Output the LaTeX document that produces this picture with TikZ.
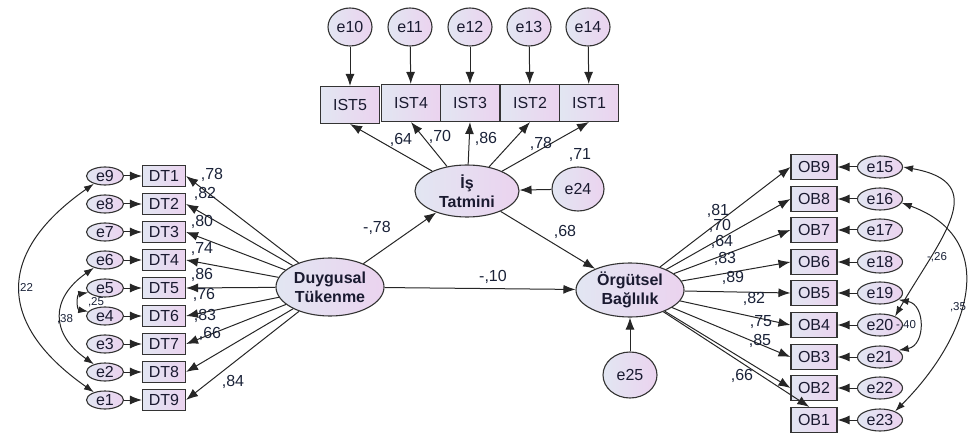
\documentclass[tikz,border=0pt]{standalone}
\usepackage{fontspec}
\setmainfont{Liberation Sans}
\usepackage{tikz}
\usetikzlibrary{shapes.geometric}
\usetikzlibrary{arrows.meta}
\definecolor{fillleft}{HTML}{E2E6F2}
\definecolor{fillright}{HTML}{EBD3EF}
\definecolor{textdark}{HTML}{1A1A30}
\definecolor{labeldark}{HTML}{1A2238}
\tikzset{
  base_node/.style = {align=center, inner sep=0pt, text centered, draw=black!80,
    line width=1.1pt, text=textdark, left color=fillleft, right color=fillright},
  obs_node/.style = {base_node, rectangle, font=\fontsize{16}{18}\selectfont},
  dt_node/.style = {obs_node, minimum width=43pt, minimum height=21pt},
  ist_node/.style = {obs_node, minimum width=59pt, minimum height=37pt},
  ob_node/.style = {obs_node, minimum width=46pt, minimum height=25pt},
  err_node/.style = {base_node, ellipse, font=\fontsize{16}{18}\selectfont},
  e_left/.style = {err_node, minimum width=37pt, minimum height=18pt},
  e_right/.style = {err_node, minimum width=45pt, minimum height=22pt},
  e_top/.style = {err_node, minimum width=44pt, minimum height=38pt},
  lat_node/.style = {base_node, ellipse, font=\bfseries\fontsize{16}{19}\selectfont},
  coef/.style = {font=\fontsize{16}{18}\selectfont, text=labeldark, inner sep=0pt},
  cov_coef/.style = {font=\fontsize{11.5}{13}\selectfont, text=labeldark, inner sep=0pt},
  path_arrow/.style = {-{Latex[length=12pt,width=9pt]}, line width=1pt, draw=black!85},
  cov_arrow/.style = {{Latex[length=10pt,width=7pt]}-{Latex[length=10pt,width=7pt]},
    line width=1pt, draw=black!85}
}

\begin{document}
\begin{tikzpicture}[x=1pt, y=1pt]
  \useasboundingbox (0,0) rectangle (968,434);

  \node [lat_node, minimum width=108pt, minimum height=58pt] (duy) at (330,147) {Duygusal\\Tükenme};
  \node [lat_node, minimum width=104pt, minimum height=52pt] (ist) at (467,243) {İş\\Tatmini};
  \node [lat_node, minimum width=108pt, minimum height=54pt] (org) at (630,144) {Örgütsel\\Bağlılık};
  \node [err_node, minimum width=52pt, minimum height=44pt] (e24) at (578,245) {e24};
  \node [err_node, minimum width=54pt, minimum height=46pt] (e25) at (630,59) {e25};

  \node [dt_node] (dt1) at (164,258) {DT1};
  \node [dt_node] (dt2) at (164,230) {DT2};
  \node [dt_node] (dt3) at (164,202) {DT3};
  \node [dt_node] (dt4) at (164,174) {DT4};
  \node [dt_node] (dt5) at (164,146) {DT5};
  \node [dt_node] (dt6) at (164,118) {DT6};
  \node [dt_node] (dt7) at (164,90) {DT7};
  \node [dt_node] (dt8) at (164,62) {DT8};
  \node [dt_node] (dt9) at (164,34) {DT9};
  \node [e_left] (e9) at (105,258) {e9};
  \node [e_left] (e8) at (105,230) {e8};
  \node [e_left] (e7) at (105,202) {e7};
  \node [e_left] (e6) at (105,174) {e6};
  \node [e_left] (e5) at (105,146) {e5};
  \node [e_left] (e4) at (105,118) {e4};
  \node [e_left] (e3) at (105,90) {e3};
  \node [e_left] (e2) at (105,62) {e2};
  \node [e_left] (e1) at (105,34) {e1};

  \node [ist_node] (ist5) at (350,329) {IST5};
  \node [ist_node] (ist4) at (411,331) {IST4};
  \node [ist_node] (ist3) at (470,331) {IST3};
  \node [ist_node] (ist2) at (530,331) {IST2};
  \node [ist_node] (ist1) at (589,331) {IST1};
  \node [e_top] (e10) at (350,407) {e10};
  \node [e_top] (e11) at (410,407) {e11};
  \node [e_top] (e12) at (470,407) {e12};
  \node [e_top] (e13) at (529,407) {e13};
  \node [e_top] (e14) at (588,407) {e14};

  \node [ob_node] (ob9) at (814,267) {OB9};
  \node [ob_node] (ob8) at (814,235) {OB8};
  \node [ob_node] (ob7) at (814,204) {OB7};
  \node [ob_node] (ob6) at (814,172) {OB6};
  \node [ob_node] (ob5) at (814,141) {OB5};
  \node [ob_node] (ob4) at (814,109) {OB4};
  \node [ob_node] (ob3) at (814,77) {OB3};
  \node [ob_node] (ob2) at (814,46) {OB2};
  \node [ob_node] (ob1) at (814,14) {OB1};
  \node [e_right] (e15) at (880,267) {e15};
  \node [e_right] (e16) at (880,235) {e16};
  \node [e_right] (e17) at (880,204) {e17};
  \node [e_right] (e18) at (880,172) {e18};
  \node [e_right] (e19) at (880,141) {e19};
  \node [e_right] (e20) at (880,109) {e20};
  \node [e_right] (e21) at (880,77) {e21};
  \node [e_right] (e22) at (880,46) {e22};
  \node [e_right] (e23) at (880,14) {e23};

  \draw [path_arrow] (duy) -- (ist);
  \draw [path_arrow] (ist) -- (org);
  \draw [path_arrow] (duy) -- (org);
  \draw [path_arrow] (e24) -- (ist);
  \draw [path_arrow] (e25) -- (org);

  \draw [path_arrow] (duy) -- (dt1.east);
  \draw [path_arrow] (duy) -- (dt2.east);
  \draw [path_arrow] (duy) -- (dt3.east);
  \draw [path_arrow] (duy) -- (dt4.east);
  \draw [path_arrow] (duy) -- (dt5.east);
  \draw [path_arrow] (duy) -- (dt6.east);
  \draw [path_arrow] (duy) -- (dt7.east);
  \draw [path_arrow] (duy) -- (dt8.east);
  \draw [path_arrow] (duy) -- (dt9.east);
  \draw [path_arrow] (e9) -- (dt1);
  \draw [path_arrow] (e8) -- (dt2);
  \draw [path_arrow] (e7) -- (dt3);
  \draw [path_arrow] (e6) -- (dt4);
  \draw [path_arrow] (e5) -- (dt5);
  \draw [path_arrow] (e4) -- (dt6);
  \draw [path_arrow] (e3) -- (dt7);
  \draw [path_arrow] (e2) -- (dt8);
  \draw [path_arrow] (e1) -- (dt9);

  \draw [path_arrow] (ist) -- (ist5.south);
  \draw [path_arrow] (ist) -- (ist4.south);
  \draw [path_arrow] (ist) -- (ist3.south);
  \draw [path_arrow] (ist) -- (ist2.south);
  \draw [path_arrow] (ist) -- (ist1.south);
  \draw [path_arrow] (e10) -- (ist5);
  \draw [path_arrow] (e11) -- (ist4);
  \draw [path_arrow] (e12) -- (ist3);
  \draw [path_arrow] (e13) -- (ist2);
  \draw [path_arrow] (e14) -- (ist1);

  \draw [path_arrow] (org) -- (ob9.west);
  \draw [path_arrow] (org) -- (ob8.west);
  \draw [path_arrow] (org) -- (ob7.west);
  \draw [path_arrow] (org) -- (ob6.west);
  \draw [path_arrow] (org) -- (ob5.west);
  \draw [path_arrow] (org) -- (ob4.west);
  \draw [path_arrow] (org) -- (ob3.west);
  \draw [path_arrow] (org) -- (ob2.west);
  \draw [path_arrow] (org) -- (ob1.110);
  \draw [path_arrow] (e15) -- (ob9);
  \draw [path_arrow] (e16) -- (ob8);
  \draw [path_arrow] (e17) -- (ob7);
  \draw [path_arrow] (e18) -- (ob6);
  \draw [path_arrow] (e19) -- (ob5);
  \draw [path_arrow] (e20) -- (ob4);
  \draw [path_arrow] (e21) -- (ob3);
  \draw [path_arrow] (e22) -- (ob2);
  \draw [path_arrow] (e23) -- (ob1);

  \draw [cov_arrow] (e9.215) to[out=215, in=145, looseness=1.47] (e1.145);
  \draw [cov_arrow] (e6.215) to[out=215, in=145, looseness=1.42] (e2.145);
  \draw [cov_arrow] (e5.195) to[out=190, in=170, looseness=1.6] (e4.165);
  \draw [cov_arrow] (e15.east) to[out=-10, in=60, looseness=1.55] (e20.30);
  \draw [cov_arrow] (e19.-20) to[out=-10, in=10, looseness=1.4] (e21.20);
  \draw [cov_arrow] (e16.-10) to[out=-20, in=45, looseness=1.3] (e23.30);

  \node [coef] (c_dt1) at (212,259) {,78};
  \node [coef] (c_dt2) at (205,240) {,82};
  \node [coef] (c_dt3) at (202,212) {,80};
  \node [coef] (c_dt4) at (202,185) {,74};
  \node [coef] (c_dt5) at (202,159) {,86};
  \node [coef] (c_dt6) at (204,139) {,76};
  \node [coef] (c_dt7) at (205,118) {,83};
  \node [coef] (c_dt8) at (210,100) {,66};
  \node [coef] (c_dt9) at (233,52) {,84};

  \node [coef] (c_ist5) at (401,294) {,64};
  \node [coef] (c_ist4) at (440,297) {,70};
  \node [coef] (c_ist3) at (486,295) {,86};
  \node [coef] (c_ist2) at (541,290) {,78};
  \node [coef] (c_ist1) at (580,279) {,71};

  \node [coef] (c_duy_ist) at (377,206) {-,78};
  \node [coef] (c_ist_org) at (565,202) {,68};
  \node [coef] (c_duy_org) at (493,157) {-,10};

  \node [coef] (c_ob9) at (718,223) {,81};
  \node [coef] (c_ob8) at (720,208) {,70};
  \node [coef] (c_ob7) at (722,192) {,64};
  \node [coef] (c_ob6) at (725,175) {,83};
  \node [coef] (c_ob5) at (733,156) {,89};
  \node [coef] (c_ob4) at (754,135) {,82};
  \node [coef] (c_ob3) at (761,112) {,75};
  \node [coef] (c_ob2) at (760,93) {,85};
  \node [coef] (c_ob1) at (742,58) {,66};

  \node [cov_coef] (c_e9_e1) at (25,146) {,22};
  \node [cov_coef] (c_e6_e2) at (65,115) {,38};
  \node [cov_coef] (c_e5_e4) at (96,132) {,25};
  \node [cov_coef] (c_e15_e20) at (937,177) {-,26};
  \node [cov_coef] (c_e19_e21) at (906,109) {-,40};
  \node [cov_coef] (c_e16_e23) at (958,127) {,35};
\end{tikzpicture}
\end{document}
